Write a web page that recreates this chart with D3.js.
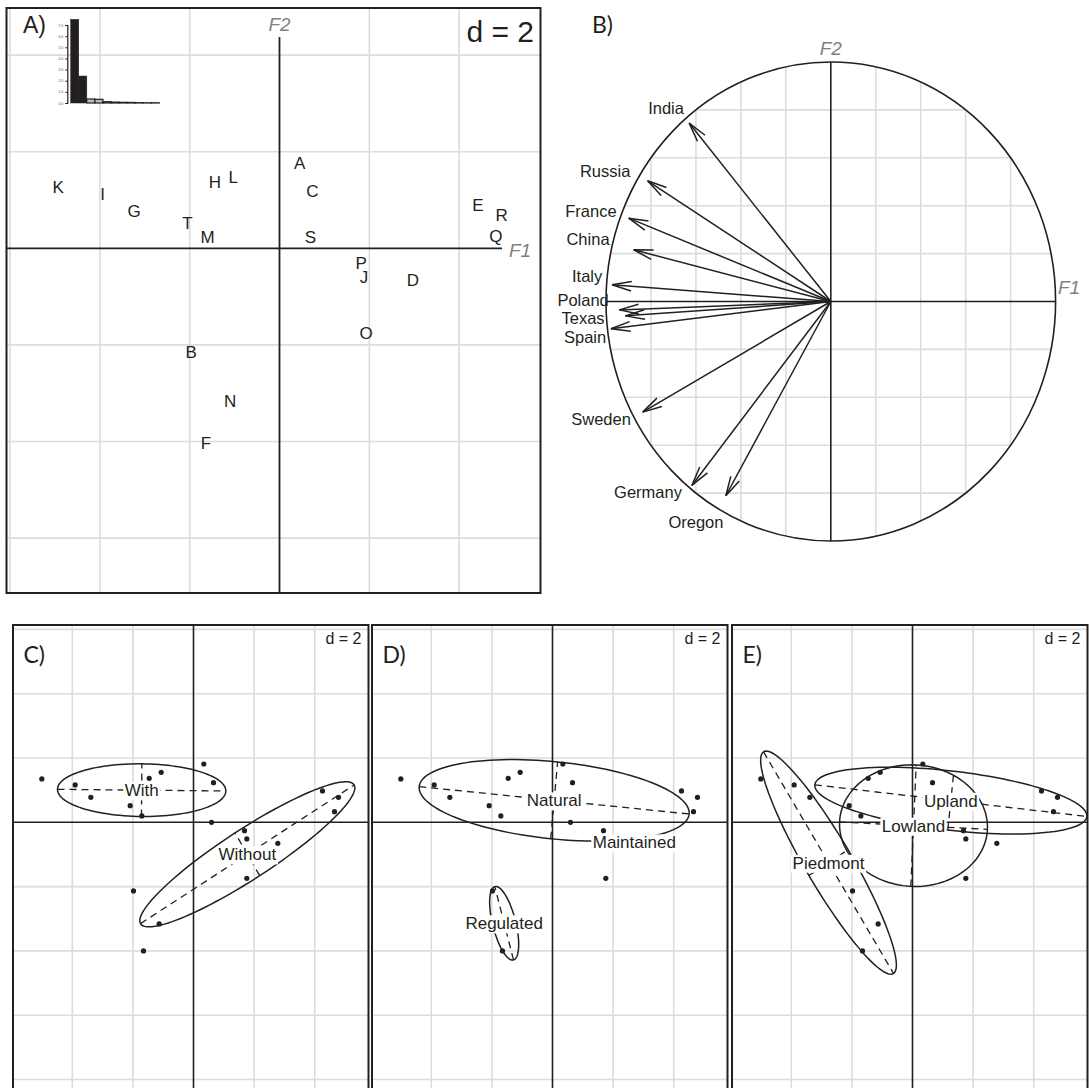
<!DOCTYPE html>
<html><head><meta charset="utf-8">
<script src="https://cdn.jsdelivr.net/npm/d3@7"></script>
<style>body{margin:0;background:#fff}svg{display:block}</style>
</head><body>
<svg id="chart" width="1089" height="1088"></svg>
<script>
// ================= DATA =================
// Panel A : row labels and their coordinates on F1 / F2
const rowNames = ["A","B","C","D","E","F","G","H","I","J","K","L","M","N","O","P","Q","R","S","T"];
const labelF1 = [0.45,-1.97,0.73,2.97,4.42,-1.64,-3.24,-1.44,-3.94,1.88,-4.93,-1.03,-1.60,-1.10,1.93,1.82,4.82,4.95,0.69,-2.05];
const labelF2 = [1.76,-2.14,1.18,-0.65,0.89,-4.03,0.78,1.38,1.12,-0.60,1.27,1.48,0.23,-3.15,-1.76,-0.30,0.25,0.69,0.23,0.53];
// Eigenvalue inset
const eigenvalues = [7.51,2.42,0.36,0.33,0.12,0.08,0.06,0.05,0.03,0.02,0.02];
const eigenTicks = [0,1,2,3,4,5,6,7];
const keptAxes = 2;

// Panel B : correlation circle
const variables = ["India","Russia","France","China","Italy","Poland","Texas","Spain","Sweden","Germany","Oregon"];
const corF1 = [-0.630,-0.815,-0.899,-0.877,-0.973,-0.941,-0.914,-0.978,-0.837,-0.618,-0.467];
const corF2 = [0.745,0.504,0.348,0.216,0.070,-0.035,-0.060,-0.114,-0.462,-0.768,-0.811];
const varLabelF1 = [-0.733,-1.004,-1.067,-1.080,-1.084,-1.102,-1.102,-1.093,-1.022,-0.813,-0.600];
const varLabelF2 = [0.808,0.546,0.378,0.260,0.107,0.006,-0.069,-0.148,-0.490,-0.795,-0.921];

// Panels C–E : point scores (same rows A..T)
const scoreF1 = [0.341,-1.980,0.660,2.783,4.257,-1.650,-3.388,-1.463,-3.905,1.760,-5.006,-1.067,-1.705,-1.133,1.760,1.683,4.653,4.785,0.594,-2.090];
const scoreF2 = [1.814,-2.136,1.234,-0.653,0.975,-4.002,0.778,1.369,1.161,-0.518,1.348,1.555,0.197,-3.162,-1.742,-0.259,0.332,0.778,0.0,0.518];

// Group ellipses (centre, major semi-axis vector, minor semi-axis length)
const groupsC = ["With","Without"];
const centreF1C = [-1.711, 1.777];
const centreF2C = [1.000, -0.995];
const majorF1C = [2.778, 3.526];
const majorF2C = [-0.026, 2.157];
const minorC = [0.819, 0.78];

const groupsD = ["Natural","Maintained","Regulated"];
const centreF1D = [0.055, 2.70, -1.595];
const centreF2D = [0.684, -0.62, -3.14];
const majorF1D = [4.455, 0, -0.308];
const majorF2D = [-0.425, 0, 1.14];
const minorD = [1.2, 0, 0.38];

const groupsE = ["Piedmont","Lowland","Upland"];
const centreF1E = [-2.772, 0.033, 1.265];
const centreF2E = [-1.255, -0.104, 0.674];
const majorF1E = [2.145, 2.44, 4.488];
const majorF2E = [-3.447, -0.114, -0.4925];
const minorE = [0.76, 1.89, 0.92];

const panelLetters = ["C)","D)","E)"];
const gridStep = 2;

// ================= DRAW =================
const svg = d3.select("#chart");
const INK = "#231f20", GRID = "#dcdcdc", GREY = "#7f7f7f";
const SANS = "'Liberation Sans', Arial, sans-serif";
const HUM = "Lato, 'Open Sans', sans-serif";
const defs = svg.append("defs");

// ---------- Panel A ----------
const xA = d3.scaleLinear().domain([0, 2]).range([279.5, 369.3]);
const yA = d3.scaleLinear().domain([0, 2]).range([248.3, 151.7]);
const bA = {x0: 6.5, x1: 540.5, y0: 8, y1: 593};
defs.append("clipPath").attr("id","clipA").append("rect")
  .attr("x", bA.x0).attr("y", bA.y0).attr("width", bA.x1-bA.x0).attr("height", bA.y1-bA.y0);
const gA = svg.append("g");
const gAc = gA.append("g").attr("clip-path","url(#clipA)");
d3.range(-12, 13, gridStep).filter(v => v !== 0).forEach(v => {
  gAc.append("line").attr("x1", xA(v)).attr("x2", xA(v)).attr("y1", bA.y0).attr("y2", bA.y1)
    .attr("stroke", GRID).attr("stroke-width", 1.6);
  gAc.append("line").attr("y1", yA(v)).attr("y2", yA(v)).attr("x1", bA.x0).attr("x2", bA.x1)
    .attr("stroke", GRID).attr("stroke-width", 1.6);
});
// axes
gAc.append("line").attr("x1", bA.x0).attr("x2", 502).attr("y1", yA(0)).attr("y2", yA(0))
  .attr("stroke", INK).attr("stroke-width", 1.8);
gAc.append("line").attr("x1", xA(0)).attr("x2", xA(0)).attr("y1", 37).attr("y2", bA.y1)
  .attr("stroke", INK).attr("stroke-width", 1.8);
gA.append("text").attr("x", xA(0)).attr("y", 31).attr("text-anchor","middle")
  .attr("font-family", SANS).attr("font-style","italic").attr("font-size", 19).attr("fill", GREY).text("F2");
gA.append("text").attr("x", 509).attr("y", 257)
  .attr("font-family", SANS).attr("font-style","italic").attr("font-size", 19).attr("fill", GREY).text("F1");
// row labels
gAc.selectAll("text.row").data(rowNames).join("text").attr("class","row")
  .attr("x", (d,i) => xA(labelF1[i])).attr("y", (d,i) => yA(labelF2[i]))
  .attr("dy", "0.36em").attr("text-anchor","middle")
  .attr("font-family", SANS).attr("font-size", 17).attr("fill", INK).text(d => d);
// eigenvalue inset
const xE = d3.scaleBand().domain(d3.range(eigenvalues.length)).range([70.7, 159.3]).padding(0);
const yE = d3.scaleLinear().domain([0, 7]).range([103, 25]);
const gEig = gA.append("g");
gEig.selectAll("rect").data(eigenvalues).join("rect")
  .attr("x", (d,i) => xE(i)).attr("width", xE.bandwidth())
  .attr("y", d => yE(d)).attr("height", d => yE(0) - yE(d))
  .attr("fill", (d,i) => i < keptAxes ? INK : "#bbb")
  .attr("stroke", INK).attr("stroke-width", (d,i) => i < keptAxes ? 0.5 : 1.2);
const axE = d3.axisLeft(yE).tickValues(eigenTicks).tickSize(2).tickPadding(2);
gEig.append("g").attr("transform", "translate(67.3,0)").call(axE)
  .call(g => { g.select(".domain").attr("stroke", INK).attr("stroke-width", 1.2);
               g.selectAll("line").attr("stroke", INK);
               g.selectAll("text").attr("font-size", 3.5).attr("fill", "#555").attr("font-family", SANS); });
// border & titles
gA.append("rect").attr("x", bA.x0).attr("y", bA.y0).attr("width", bA.x1-bA.x0).attr("height", bA.y1-bA.y0)
  .attr("fill","none").attr("stroke", INK).attr("stroke-width", 2);
gA.append("text").attr("x", 23).attr("y", 33).attr("font-family", SANS).attr("font-size", 23).attr("fill", INK).text("A)");
gA.append("text").attr("x", 534).attr("y", 42).attr("text-anchor","end")
  .attr("font-family", SANS).attr("font-size", 30).attr("fill", INK).text("d = 2");

// ---------- Panel B ----------
const xB = d3.scaleLinear().domain([-1, 1]).range([606, 1055.6]);
const yB = d3.scaleLinear().domain([-1, 1]).range([541, 62]);
const gB = svg.append("g");
d3.range(-0.8, 0.81, 0.2).filter(v => Math.abs(v) > 1e-6).forEach(v => {
  const h = Math.sqrt(1 - v*v);
  gB.append("line").attr("x1", xB(v)).attr("x2", xB(v)).attr("y1", yB(h)).attr("y2", yB(-h))
    .attr("stroke", GRID).attr("stroke-width", 1.6);
  gB.append("line").attr("y1", yB(v)).attr("y2", yB(v)).attr("x1", xB(-h)).attr("x2", xB(h))
    .attr("stroke", GRID).attr("stroke-width", 1.6);
});
gB.append("ellipse").attr("cx", xB(0)).attr("cy", yB(0))
  .attr("rx", (xB(1)-xB(-1))/2).attr("ry", (yB(-1)-yB(1))/2)
  .attr("fill","none").attr("stroke", INK).attr("stroke-width", 1.6);
gB.append("line").attr("x1", xB(-1)).attr("x2", xB(1)).attr("y1", yB(0)).attr("y2", yB(0))
  .attr("stroke", INK).attr("stroke-width", 1.6);
gB.append("line").attr("x1", xB(0)).attr("x2", xB(0)).attr("y1", yB(1)).attr("y2", yB(-1))
  .attr("stroke", INK).attr("stroke-width", 1.6);
gB.append("text").attr("x", xB(0)).attr("y", 55).attr("text-anchor","middle")
  .attr("font-family", SANS).attr("font-style","italic").attr("font-size", 19).attr("fill", GREY).text("F2");
gB.append("text").attr("x", 1058).attr("y", 294)
  .attr("font-family", SANS).attr("font-style","italic").attr("font-size", 19).attr("fill", GREY).text("F1");
// arrows
const headLen = 20, headAng = 14 * Math.PI / 180;
variables.forEach((v, i) => {
  const ox = xB(0), oy = yB(0), tx = xB(corF1[i]), ty = yB(corF2[i]);
  gB.append("line").attr("x1", ox).attr("y1", oy).attr("x2", tx).attr("y2", ty)
    .attr("stroke", INK).attr("stroke-width", 1.5);
  const a = Math.atan2(oy - ty, ox - tx);
  const pts = [[tx + headLen*Math.cos(a+headAng), ty + headLen*Math.sin(a+headAng)], [tx, ty],
               [tx + headLen*Math.cos(a-headAng), ty + headLen*Math.sin(a-headAng)]];
  gB.append("path").attr("d", d3.line()(pts)).attr("fill","none").attr("stroke", INK).attr("stroke-width", 1.5);
});
gB.selectAll("text.var").data(variables).join("text").attr("class","var")
  .attr("x", (d,i) => xB(varLabelF1[i])).attr("y", (d,i) => yB(varLabelF2[i]))
  .attr("dy","0.36em").attr("text-anchor","middle")
  .attr("font-family", SANS).attr("font-size", 16.5).attr("fill", INK).text(d => d);
gB.append("text").attr("x", 592).attr("y", 33).attr("font-family", HUM).attr("font-size", 23).attr("fill", INK).text("B)");

// ---------- Panels C, D, E ----------
const panels = [
  {left: 13,  names: groupsC, cx: centreF1C, cy: centreF2C, mx: majorF1C, my: majorF2C, mn: minorC},
  {left: 372, names: groupsD, cx: centreF1D, cy: centreF2D, mx: majorF1D, my: majorF2D, mn: minorD},
  {left: 732, names: groupsE, cx: centreF1E, cy: centreF2E, mx: majorF1E, my: majorF2E, mn: minorE}
];
const pTop = 625, pBottom = 1100, pWidth = 355.5;
panels.forEach((p, k) => {
  const ax = p.left + 180.5;
  const xP = d3.scaleLinear().domain([0, 2]).range([ax, ax + 60.6]);
  const yP = d3.scaleLinear().domain([0, 2]).range([822.3, 822.3 - 64.3]);
  const id = "clipP" + k;
  defs.append("clipPath").attr("id", id).append("rect")
    .attr("x", p.left).attr("y", pTop).attr("width", pWidth).attr("height", pBottom - pTop);
  const g = svg.append("g");
  const gc = g.append("g").attr("clip-path", `url(#${id})`);
  d3.range(-12, 13, gridStep).filter(v => v !== 0).forEach(v => {
    gc.append("line").attr("x1", xP(v)).attr("x2", xP(v)).attr("y1", pTop).attr("y2", pBottom)
      .attr("stroke", GRID).attr("stroke-width", 1.6);
    gc.append("line").attr("y1", yP(v)).attr("y2", yP(v)).attr("x1", p.left).attr("x2", p.left + pWidth)
      .attr("stroke", GRID).attr("stroke-width", 1.6);
  });
  gc.append("line").attr("x1", p.left).attr("x2", p.left + pWidth).attr("y1", yP(0)).attr("y2", yP(0))
    .attr("stroke", INK).attr("stroke-width", 1.6);
  gc.append("line").attr("x1", xP(0)).attr("x2", xP(0)).attr("y1", pTop).attr("y2", pBottom)
    .attr("stroke", INK).attr("stroke-width", 1.6);
  // ellipses
  p.names.forEach((name, j) => {
    const L = Math.hypot(p.mx[j], p.my[j]);
    if (L === 0) return;
    const nx = -p.my[j] / L * p.mn[j], ny = p.mx[j] / L * p.mn[j];
    const pts = d3.range(0, 2*Math.PI, Math.PI/60).map(t => [
      xP(p.cx[j] + Math.cos(t)*p.mx[j] + Math.sin(t)*nx),
      yP(p.cy[j] + Math.cos(t)*p.my[j] + Math.sin(t)*ny)]);
    gc.append("path").attr("d", d3.line().curve(d3.curveLinearClosed)(pts))
      .attr("fill","none").attr("stroke", INK).attr("stroke-width", 1.5);
    [[p.mx[j], p.my[j]], [nx, ny]].forEach(([vx, vy]) => {
      gc.append("line")
        .attr("x1", xP(p.cx[j] - vx)).attr("y1", yP(p.cy[j] - vy))
        .attr("x2", xP(p.cx[j] + vx)).attr("y2", yP(p.cy[j] + vy))
        .attr("stroke", INK).attr("stroke-width", 1.3).attr("stroke-dasharray", "7,5");
    });
  });
  // points
  gc.selectAll("circle").data(scoreF1).join("circle")
    .attr("cx", d => xP(d)).attr("cy", (d,i) => yP(scoreF2[i])).attr("r", 2.6).attr("fill", INK);
  // group labels
  p.names.forEach((name, j) => {
    const lg = gc.append("g");
    const t = lg.append("text").attr("x", xP(p.cx[j])).attr("y", yP(p.cy[j])).attr("dy","0.36em")
      .attr("text-anchor","middle").attr("font-family", SANS).attr("font-size", 17).attr("fill", INK).text(name);
    const bb = t.node().getBBox();
    lg.insert("rect", "text").attr("x", bb.x - 1.5).attr("y", bb.y + 1).attr("width", bb.width + 3)
      .attr("height", bb.height - 1).attr("fill", "#fff");
  });
  g.append("rect").attr("x", p.left).attr("y", pTop).attr("width", pWidth).attr("height", pBottom - pTop)
    .attr("fill","none").attr("stroke", INK).attr("stroke-width", 2);
  g.append("text").attr("x", p.left + 10.5).attr("y", 663).attr("font-family", HUM).attr("font-size", 23)
    .attr("fill", INK).text(panelLetters[k]);
  g.append("text").attr("x", p.left + pWidth - 7).attr("y", 644).attr("text-anchor","end")
    .attr("font-family", SANS).attr("font-size", 16).attr("fill", INK).text("d = 2");
});
</script>
</body></html>
